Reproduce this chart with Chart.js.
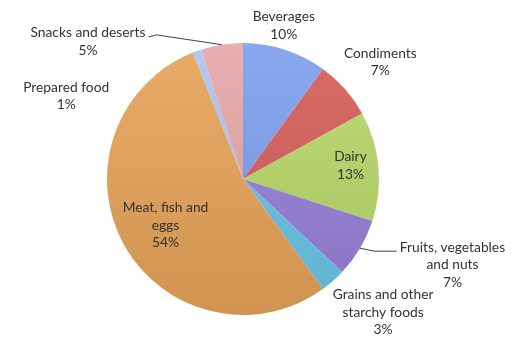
<!DOCTYPE html>
<html>
<head>
<meta charset="utf-8">
<script src="https://cdn.jsdelivr.net/npm/chart.js@4/dist/chart.umd.min.js"></script>
<style>
  html, body { margin: 0; padding: 0; background: #fff; }
  #wrap { width: 518px; height: 339px; }
</style>
</head>
<body>
<div id="wrap"><canvas id="foodChart" width="518" height="339"></canvas></div>
<script>
const categories = [
    ['Beverages'],
    ['Condiments'],
    ['Dairy'],
    ['Fruits, vegetables', 'and nuts'],
    ['Grains and other', 'starchy foods'],
    ['Meat, fish and', 'eggs'],
    ['Prepared food'],
    ['Snacks and deserts']
];
const shares = [10, 7, 13, 7, 3, 54, 1, 5];
const sliceColors = ['#7e9ce4', '#cc615d', '#b2cf6b', '#9580cf', '#6cbedc', '#dc9f5c', '#a8bde8', '#dba3a3'];

// label placement, offsets from pie centre in units of the radius
const labelSpots = [
    { x: 0.30, y: -1.13 },
    { x: 1.01, y: -0.86 },
    { x: 0.79, y: -0.10 },
    { x: 1.54, y: 0.63, leader: true, align: 'left' },
    { x: 1.03, y: 0.98 },
    { x: -0.57, y: 0.34 },
    { x: -1.30, y: -0.61 },
    { x: -1.14, y: -1.01, leader: true, align: 'right' }
];

const labelPlugin = {
    id: 'sliceLabels',
    afterDatasetsDraw(chart) {
        const ctx = chart.ctx;
        const meta = chart.getDatasetMeta(0);
        const lineH = 17.5;
        ctx.save();
        ctx.font = "13.8px Lato, 'Open Sans', sans-serif";
        ctx.fillStyle = '#333333';
        ctx.textAlign = 'center';
        ctx.textBaseline = 'middle';
        meta.data.forEach((arc, i) => {
            const R = arc.outerRadius;
            const spot = labelSpots[i];
            const lines = categories[i].concat([shares[i] + '%']);
            const cx = arc.x + spot.x * R;
            const cy = arc.y + spot.y * R;
            const top = cy - (lines.length - 1) * lineH / 2;
            lines.forEach((t, k) => ctx.fillText(t, cx, top + k * lineH));

            if (spot.leader) {
                const mid = (arc.startAngle + arc.endAngle) / 2;
                const ex = arc.x + Math.cos(mid) * R;
                const ey = arc.y + Math.sin(mid) * R;
                const w = ctx.measureText(lines[0]).width;
                const tx = spot.align === 'left' ? cx - w / 2 - 3 : cx + w / 2 + 3;
                const ty = top + 4;
                ctx.strokeStyle = '#404040';
                ctx.lineWidth = 1;
                ctx.beginPath();
                ctx.moveTo(ex, ey);
                if (spot.align === 'left') {
                    ctx.lineTo(ex + 14, ty);
                } else {
                    ctx.lineTo(tx + 8, ty - 2);
                }
                ctx.lineTo(tx, ty);
                ctx.stroke();
            }
        });
        ctx.restore();
    }
};

function shade(hex, amt) {
    const n = parseInt(hex.slice(1), 16);
    const f = c => Math.max(0, Math.min(255, Math.round(c + amt)));
    const r = f(n >> 16), g = f((n >> 8) & 255), b = f(n & 255);
    return 'rgb(' + r + ',' + g + ',' + b + ')';
}

new Chart(document.getElementById('foodChart'), {
    type: 'pie',
    data: {
        labels: categories.map(c => c.join(' ')),
        datasets: [{
            data: shares,
            backgroundColor: (c) => {
                const area = c.chart.chartArea;
                const base = sliceColors[c.dataIndex];
                if (!area) return base;
                const g = c.chart.ctx.createLinearGradient(0, area.top, 0, area.bottom);
                g.addColorStop(0, shade(base, 12));
                g.addColorStop(1, shade(base, -12));
                return g;
            },
            borderWidth: 0
        }]
    },
    options: {
        responsive: false,
        animation: false,
        rotation: 0,
        layout: {
            padding: { left: 107, right: 139, top: 43, bottom: 24 }
        },
        plugins: {
            legend: { display: false },
            tooltip: { enabled: false }
        }
    },
    plugins: [labelPlugin]
});
</script>
</body>
</html>
